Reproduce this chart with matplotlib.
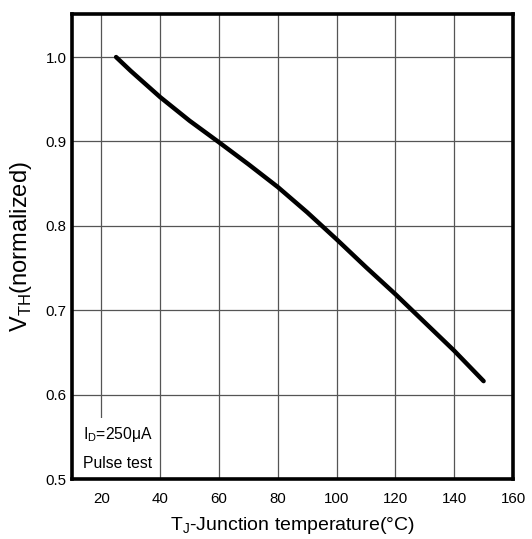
import matplotlib
matplotlib.use('Agg')
import matplotlib.pyplot as plt
from matplotlib.patches import Rectangle

plt.rcParams['font.family'] = ['Liberation Sans', 'DejaVu Sans']
plt.rcParams['mathtext.fontset'] = 'custom'
plt.rcParams['mathtext.rm'] = 'Liberation Sans'

# values
temp_c = [25, 30, 35, 40, 50, 60, 70, 80, 90, 100, 110, 120, 130, 140, 150]
vth_norm = [1.0, 0.9835, 0.968, 0.9525, 0.9245, 0.899, 0.873, 0.846, 0.816,
            0.784, 0.751, 0.719, 0.6855, 0.652, 0.616]

x_ticks = [20, 40, 60, 80, 100, 120, 140, 160]
y_ticks = [0.5, 0.6, 0.7, 0.8, 0.9, 1.0]
y_tick_labels = ['0.5', '0.6', '0.7', '0.8', '0.9', '1.0']

fig = plt.figure(figsize=(5.32, 5.39), dpi=100)
ax = fig.add_axes([0.1353, 0.1113, 0.829, 0.8627])

# grid
for x in x_ticks[:-1]:
    ax.axvline(x, color='#555555', lw=0.9, zorder=1)
for y in y_ticks[1:]:
    ax.axhline(y, color='#555555', lw=0.9, zorder=1)

ax.plot(temp_c, vth_norm, color='black', lw=3.2, solid_capstyle='round',
        solid_joinstyle='round', zorder=3)

# white box behind the note
ax.add_patch(Rectangle((10, 0.5), 29.3, 0.0726, facecolor='white',
                       edgecolor='none', zorder=2))
ax.text(13.6, 0.5476, r'I$_\mathregular{D}$=250$\mathregular{\mu}$A', fontsize=11.3,
        va='baseline', ha='left', zorder=4)
ax.text(13.6, 0.513, 'Pulse test', fontsize=11.3, va='baseline', ha='left', zorder=4)

ax.set_xlim(10, 160)
ax.set_ylim(0.5, 1.051)
ax.set_xticks(x_ticks)
ax.set_yticks(y_ticks)
ax.set_yticklabels(y_tick_labels)
ax.tick_params(length=0, labelsize=10.8)
ax.tick_params(axis='x', pad=9)
ax.tick_params(axis='y', pad=4)

for s in ax.spines.values():
    s.set_linewidth(2.6)
    s.set_zorder(5)

ax.set_xlabel('T$_\\mathregular{J}$-Junction temperature(\u00b0C)', fontsize=14, labelpad=7)
ax.set_ylabel('V$_\\mathregular{TH}$(normalized)', fontsize=17, labelpad=8)

fig.savefig('out.png', dpi=100)
